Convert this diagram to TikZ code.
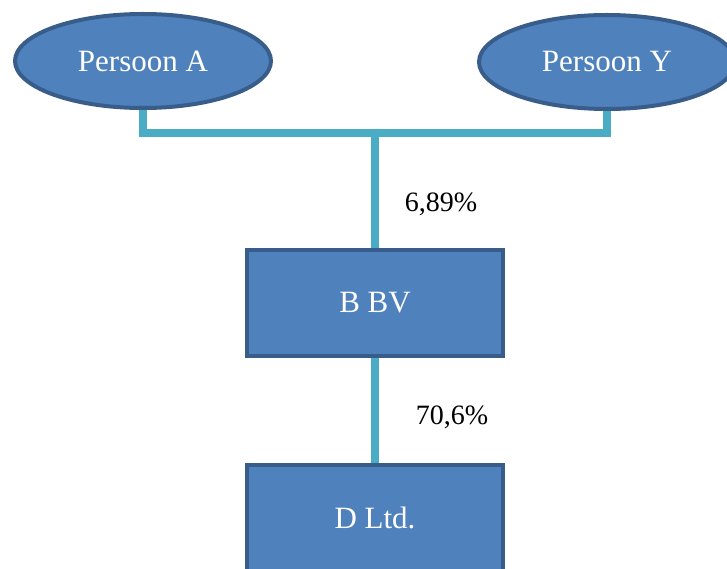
\documentclass[tikz,border=0pt]{standalone}
\usepackage{fontspec}
\setmainfont{Liberation Serif}
\usetikzlibrary{positioning, shapes.geometric}
\definecolor{orgfill}{HTML}{4F81BD}
\definecolor{orgline}{HTML}{385D8A}
\definecolor{orglink}{HTML}{4BACC6}

\begin{document}
\begin{tikzpicture}[
  x=1pt, y=-1pt,
  person/.style={ellipse, draw=orgline, fill=orgfill, line width=4pt,
    minimum width=256pt, minimum height=94pt, inner sep=0pt,
    text=white, font=\fontsize{31}{35}\selectfont},
  entity/.style={rectangle, draw=orgline, fill=orgfill, line width=4pt,
    minimum width=256pt, minimum height=106pt, inner sep=0pt,
    text=white, font=\fontsize{31}{35}\selectfont},
  link/.style={line width=8pt, orglink},
  share/.style={font=\fontsize{28}{32}\selectfont, inner sep=0pt}
]
\useasboundingbox (0,0) rectangle (727,569);
\node[person] (pa) at (143,61) {Persoon A};
\node[person] (py) at (607,62) {\raisebox{-2pt}{Persoon Y}};
\node[entity] (bbv) at (375,303) {B BV};
\node[entity] (dltd) at (375,518) {D Ltd.};
\coordinate (join) at (375,133);
\draw[link] (pa.south) |- (join) -| (py.south);
\draw[link] (join) -- (bbv.north);
\draw[link] (bbv.south) -- (dltd.north);
\node[share] (s1) at (441,204) {6,89\%};
\node[share] (s2) at (452,417) {70,6\%};
\end{tikzpicture}
\end{document}
